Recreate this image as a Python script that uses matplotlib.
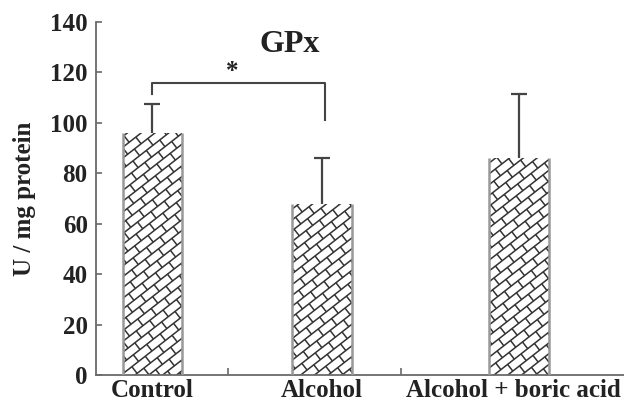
import numpy as np
import matplotlib.pyplot as plt
from matplotlib.collections import LineCollection
from matplotlib.transforms import IdentityTransform

groups = ['Control', 'Alcohol', 'Alcohol + boric acid']
means = [96, 68, 86]
errors = [11.5, 18, 25.5]
title = 'GPx'
ylabel = 'U / mg protein'
bracket = [111.5, 116, 101]  # left end, top, right end
star = '*'

plt.rcParams['font.family'] = ['Liberation Serif', 'DejaVu Serif']
plt.rcParams['font.weight'] = 'bold'

fig = plt.figure(figsize=(6.24, 4.05), dpi=100)
ax = fig.add_axes([96 / 624, 30 / 405, 528 / 624, 353 / 405])

xpos = [0, 1, 2.16]
width = 0.35
dark = '#333333'
axcol = '#6a6a6a'

ax.set_xlim(-0.333, 2.78)
ax.set_ylim(0, 140)

bars = ax.bar(xpos, means, width, color='white', edgecolor='none', zorder=2)
# symmetric error bars sit behind the bars, so only the upper half shows
ax.errorbar(xpos, means, yerr=errors, fmt='none',
            ecolor='#444444', elinewidth=1.6, capsize=5.5, capthick=1.6, zorder=1.5)

# brick-like diagonal fill, drawn in pixel space and clipped to each bar
fig.canvas.draw()
ang = np.deg2rad(38)
u = np.array([np.cos(ang), np.sin(ang)])
nrm = np.array([-np.sin(ang), np.cos(ang)])
d, L = 8.5, 17.0
for b in bars:
    x0, y0 = ax.transData.transform((b.get_x(), 0))
    x1, y1 = ax.transData.transform((b.get_x() + b.get_width(), b.get_height()))
    corners = np.array([[x0, y0], [x1, y0], [x0, y1], [x1, y1]])
    pn = corners @ nrm
    pu = corners @ u
    segs = []
    for k in range(int(np.floor(pn.min() / d)) - 1, int(np.ceil(pn.max() / d)) + 2):
        base = k * d * nrm
        segs.append([base + (pu.min() - 20) * u, base + (pu.max() + 20) * u])
        off = (k % 2) * L / 2
        for t in np.arange(np.floor(pu.min() / L) * L - L + off, pu.max() + L, L):
            segs.append([base + t * u, base + d * nrm + t * u])
    lc = LineCollection(segs, colors=dark, linewidths=1.1,
                        transform=IdentityTransform(), zorder=2.5)
    ax.add_collection(lc)
    lc.set_clip_path(b)
    ax.vlines([b.get_x(), b.get_x() + b.get_width()], 0, b.get_height(),
              colors='#999999', linewidth=1.8, zorder=2.6)

# significance bracket
ax.plot([xpos[0], xpos[0], xpos[1] + 0.02, xpos[1] + 0.02],
        [bracket[0], bracket[1], bracket[1], bracket[2]],
        color='#444444', lw=1.5, zorder=3)
ax.text((xpos[0] + xpos[1]) / 2 - 0.03, 120.5, star, ha='center', va='center',
        fontsize=18, color='#222222')

ax.text(0.81, 131, title, ha='center', va='center', fontsize=23,
        color='#222222')

ax.set_yticks(np.arange(0, 141, 20))
ax.tick_params(axis='y', direction='in', length=4, width=1.2, color=axcol,
               labelsize=18, labelcolor='#222222', pad=6)
# last label nudged left so it stays inside the figure
ax.set_xticks([xpos[0], xpos[1], xpos[2] - 0.035])
ax.set_xticklabels(groups)
ax.tick_params(axis='x', length=0, labelsize=18, labelcolor='#222222', pad=3)
ax.set_xticks([0.445, 1.466], minor=True)
ax.tick_params(axis='x', which='minor', direction='in', length=5, width=1.2,
               color=axcol)
ax.set_ylabel(ylabel, fontsize=18, fontweight='bold', color='#222222', labelpad=10)

for s in ['top', 'right']:
    ax.spines[s].set_visible(False)
for s in ['left', 'bottom']:
    ax.spines[s].set_color(axcol)
    ax.spines[s].set_linewidth(1.3)

fig.savefig('out.png', dpi=100)
